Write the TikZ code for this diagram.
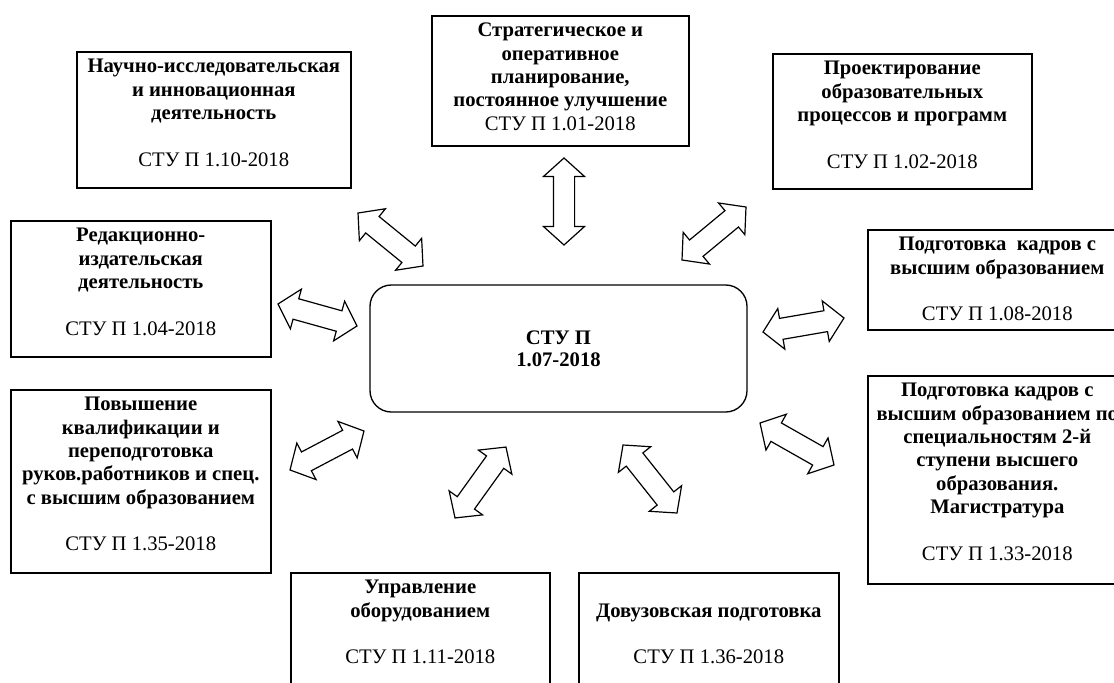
\documentclass[tikz,border=0pt]{standalone}
\usepackage{fontspec}
\setmainfont{Liberation Serif}
\usetikzlibrary{shapes.arrows,calc,positioning}

% one pixel of the layout
\newlength\pxu \setlength\pxu{0.75pt}
\newcommand\boxbody[3]{\parbox[t][#2\pxu][t]{#1\pxu}{\centering\vspace*{3.5pt}\strut#3}}
\newcommand\gap{\\[17.5pt]}
\newcommand\link[3]{\path let \p1=($(#2)-(#1)$), \n1={atan2(\y1,\x1)}, \n2={veclen(\x1,\y1)} in
  node[biarrow, minimum height=\n2, rotate=\n1] (#3) at ($(#1)!0.5!(#2)$) {};}

\begin{document}
\begin{tikzpicture}[
    x=0.75pt, y=-0.75pt,
    unit/.style={draw, line width=1.2pt, inner sep=0pt, anchor=north west, font=\fontsize{15.5}{17.5}\selectfont},
    hub/.style={draw, line width=1pt, rounded corners=16pt, minimum width=282.75pt, minimum height=95.25pt,
                align=center, font=\bfseries\fontsize{15.5}{16.5}\selectfont},
    biarrow/.style={double arrow, draw, line width=0.9pt, fill=white, inner xsep=0pt, inner ysep=7.5pt,
                double arrow head extend=7.5pt, double arrow tip angle=96},
]
    \useasboundingbox (0,0) rectangle (1114,682);
    \clip (0,0) rectangle (1114,682);

    % central standard
    \node[hub] (hub) at (558.5,348.5) {СТУ П\\ 1.07-2018};

    % surrounding processes
    \node[unit] (nauch) at (76,51) {\boxbody{274}{136}{{\bfseries Научно-исследовательская\\ и инновационная\\ деятельность}\gap СТУ П 1.10-2018}};
    \node[unit] (strat) at (431,15) {\boxbody{257}{130}{{\bfseries Стратегическое и\\ оперативное\\ планирование,\\ постоянное улучшение}\\ СТУ П 1.01-2018}};
    \node[unit] (proekt) at (772,53) {\boxbody{259}{135}{{\bfseries Проектирование\\ образовательных\\ процессов и программ}\gap СТУ П 1.02-2018}};
    \node[unit] (redak) at (10,220) {\boxbody{260}{136}{{\bfseries Редакционно-\\ издательская\\ деятельность}\gap СТУ П 1.04-2018}};
    \node[unit] (podg1) at (867,229) {\boxbody{259}{100}{{\bfseries Подготовка\ \ кадров с\\ высшим образованием}\gap СТУ П 1.08-2018}};
    \node[unit] (povysh) at (10,389) {\boxbody{260}{183}{{\bfseries Повышение\\ квалификации и\\ переподготовка\\ руков.работников и спец.\\ с высшим образованием}\gap СТУ П 1.35-2018}};
    \node[unit] (podg2) at (867,375) {\boxbody{259}{208}{{\bfseries Подготовка кадров с\\ высшим образованием по\\ специальностям 2-й\\ ступени высшего\\ образования.\\ Магистратура}\gap СТУ П 1.33-2018}};
    \node[unit] (uprav) at (290,572) {\boxbody{259}{130}{{\bfseries Управление\\ оборудованием}\gap СТУ П 1.11-2018}};
    \node[unit] (dovuz) at (578,572) {\boxbody{260}{130}{\mbox{}\\ \textbf{Довузовская подготовка}\gap СТУ П 1.36-2018}};

    % arrow ends
    \coordinate (a-nauch) at (358,213);  \coordinate (b-nauch) at (423,266);
    \coordinate (a-strat) at (564,158);  \coordinate (b-strat) at (564,245);
    \coordinate (a-proekt) at (746,207); \coordinate (b-proekt) at (682,260);
    \coordinate (a-redak) at (278,304);  \coordinate (b-redak) at (357,326);
    \coordinate (a-podg1) at (844,318);  \coordinate (b-podg1) at (763,332);
    \coordinate (a-povysh) at (290,470); \coordinate (b-povysh) at (364,431);
    \coordinate (a-uprav) at (455,518);  \coordinate (b-uprav) at (506,447);
    \coordinate (a-dovuz) at (677,513);  \coordinate (b-dovuz) at (623,445);
    \coordinate (a-podg2) at (834,465);  \coordinate (b-podg2) at (760,423);

    \foreach \k in {nauch,strat,proekt,redak,podg1,povysh,uprav,dovuz,podg2}
        \link{a-\k}{b-\k}{arr-\k};
\end{tikzpicture}
\end{document}
